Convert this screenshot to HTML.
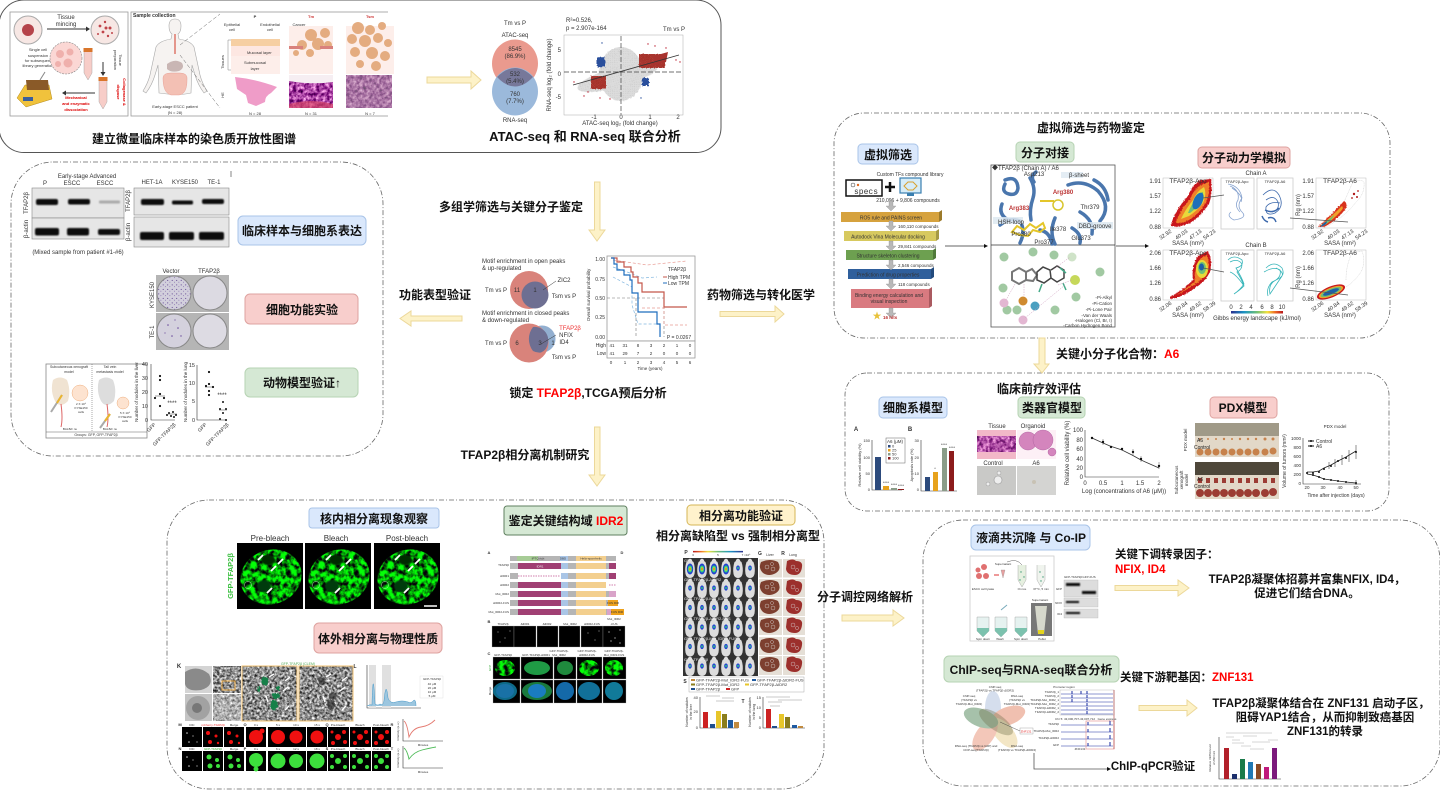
<!DOCTYPE html>
<html><head><meta charset="utf-8"><title>TFAP2β diagram</title>
<style>
html,body{margin:0;padding:0;background:#fff;width:1440px;height:791px;overflow:hidden}
svg{display:block}
text{font-family:"Liberation Sans","Noto Sans CJK SC",sans-serif;text-anchor:middle;fill:#333;font-size:5px}
.h{font-weight:700;font-size:12px;fill:#111}
.h2{font-weight:700;font-size:13px;fill:#111}
.h3{font-weight:700;font-size:11.5px;fill:#111}
.r{fill:#f00}
.l{text-anchor:start}
.e{text-anchor:end}
.s6{font-size:6px}.s7{font-size:7px}.s8{font-size:8px}.s4{font-size:4px}.s3{font-size:3px}
.ar{fill:#fdf2c8;stroke:#ecd89a;stroke-width:1}
.fr{fill:none;stroke:#666;stroke-width:.8;stroke-dasharray:5 2 1 2}
.ax{fill:none;stroke:#333;stroke-width:.6}
.im{fill:#000;stroke:#999;stroke-width:.5}
</style></head><body>
<svg width="1440" height="791" viewBox="0 0 1440 791" xmlns="http://www.w3.org/2000/svg">
<defs>
<filter id="gfp" x="0" y="0" width="100%" height="100%" color-interpolation-filters="sRGB"><feTurbulence type="fractalNoise" baseFrequency=".2" numOctaves="3" seed="4"/><feColorMatrix values="0 0 0 0 0.02  3 0 0 0 -.9  0 0 0 0 0.03  0 0 0 0 1"/><feComposite in2="SourceAlpha" operator="in"/></filter>
<filter id="em" x="0" y="0" width="100%" height="100%" color-interpolation-filters="sRGB"><feTurbulence type="fractalNoise" baseFrequency=".4" numOctaves="2" seed="7"/><feColorMatrix values="1.5 0 0 0 -.2  1.5 0 0 0 -.2  1.5 0 0 0 -.2  0 0 0 0 1"/><feComposite in2="SourceAlpha" operator="in"/></filter>
<filter id="he" x="0" y="0" width="100%" height="100%" color-interpolation-filters="sRGB"><feTurbulence type="fractalNoise" baseFrequency=".3" numOctaves="3" seed="9"/><feColorMatrix values="1.3 0 0 0 0  1.5 0 0 0 -.5  1.1 0 0 0 .08  0 0 0 0 1"/><feComposite in2="SourceAlpha" operator="in"/></filter>
<filter id="rough" x="-10%" y="-10%" width="120%" height="120%"><feTurbulence type="fractalNoise" baseFrequency=".5" numOctaves="2" seed="2"/><feDisplacementMap in="SourceGraphic" scale="4"/></filter>
<filter id="rough2" x="-10%" y="-10%" width="120%" height="120%"><feTurbulence type="fractalNoise" baseFrequency=".6" numOctaves="2" seed="5"/><feDisplacementMap in="SourceGraphic" scale="2"/></filter>
<filter id="b1"><feGaussianBlur stdDeviation=".7"/></filter>
<filter id="b2"><feGaussianBlur stdDeviation="1.5"/></filter>
<pattern id="pg" width="2.2" height="2.2" patternUnits="userSpaceOnUse"><rect width="2.2" height="2.2" fill="#dcdcdc"/><circle cx="1" cy="1" r=".5" fill="#c8c8c8"/></pattern>
<pattern id="pr" width="2" height="2" patternUnits="userSpaceOnUse"><rect width="2" height="2" fill="#a5302c"/><circle cx="1" cy="1" r=".5" fill="#b8403a"/></pattern>
<pattern id="col" width="4.5" height="4.5" patternUnits="userSpaceOnUse"><rect width="4.5" height="4.5" fill="#d2cfdc"/><circle cx="1.2" cy="1.4" r=".55" fill="#5a3c8c"/><circle cx="3.4" cy="3.2" r=".4" fill="#6b4c9c"/></pattern>
<linearGradient id="heat" x1="0" x2="1"><stop offset="0" stop-color="#2b2f8f"/><stop offset=".25" stop-color="#1b93c4"/><stop offset=".5" stop-color="#6fbf74"/><stop offset=".7" stop-color="#f4e23e"/><stop offset=".85" stop-color="#ee6a24"/><stop offset="1" stop-color="#b5161c"/></linearGradient>

<g id="nuc">
<rect width="66" height="66" fill="#000"/>
<ellipse cx="34" cy="34" rx="31" ry="27" fill="#0c8" filter="url(#gfp)" transform="rotate(-20 34 34)"/>
<ellipse cx="31" cy="17" rx="7" ry="5" fill="#042a06" filter="url(#b1)"/>
<ellipse cx="27" cy="43" rx="7" ry="6" fill="#053a08" filter="url(#b1)"/>
<circle cx="11" cy="42" r="3.5" fill="none" stroke="#ddd" stroke-width=".4"/>
<g stroke="#fff" stroke-width="1.8"><path d="M21 17l5-5M41 21l5-5M34 28l5-5M30 50l5-5"/></g>
</g>

<g id="mouse">
<path d="M-3.5 -7q3.5-3 7 0q2 6 1 12q-1 4-4.500 4t-4.500-4q-1-6 1-12z" fill="#ddd"/><circle cy="-8" r="2.2" fill="#ddd"/>
<ellipse cx="0" cy="-1" rx="1.8" ry="2.6" fill="#2040d0"/><ellipse cy="-1" rx=".8" ry="1.200" fill="#30d080"/>
</g>
<g id="mouse2">
<path d="M-3.5 -7q3.5-3 7 0q2 6 1 12q-1 4-4.500 4t-4.500-4q-1-6 1-12z" fill="#ddd"/><circle cy="-8" r="2.2" fill="#ddd"/>
<ellipse cx="0" cy="0" rx="3.2" ry="5.500" fill="#2040d0"/><ellipse cy="0" rx="2.200" ry="3.500" fill="#30d080"/><ellipse cy="0" rx="1.200" ry="1.800" fill="#e8d030"/><ellipse cy="0" rx=".6" ry=".9" fill="#e03020"/>
</g>

<g id="liver"><path d="M-9-6q9-4 17 0q4 7-2 11q-7 4-13 0q-5-5-2-11z" fill="#7d3f2f"/><circle cx="-3" cy="-1" r="2" fill="none" stroke="#ddd" stroke-width=".4"/><circle cx="3" cy="1" r="2" fill="none" stroke="#ddd" stroke-width=".4"/><circle cx="2" cy="-4" r="1.5" fill="none" stroke="#ddd" stroke-width=".4"/></g>
<g id="lung"><path d="M-7-7q6-3 9 0q7 0 6 6q-1 8-7 8q-8 0-9-6z" fill="#9c2f2c"/><circle cx="-1" cy="-1" r="2" fill="none" stroke="#ddd" stroke-width=".4"/><circle cx="3" cy="2" r="1.6" fill="none" stroke="#ddd" stroke-width=".4"/></g>

<g id="dom">
<rect x="510" width="106" height="6" fill="#b5b5b5"/>
<rect x="518" width="43" height="6" fill="#a03f73"/>
<rect x="561" width="7" height="6" fill="#a9c5e6"/>
<rect x="576" width="30" height="6" fill="#f3cf8e"/>
</g>
<g id="hm1">
<rect width="50" height="50" fill="#fff" stroke="#bbb" stroke-width=".5"/>
<path d="M8 48Q10 35 25 18Q30 5 38 2L48 1Q50 15 46 26Q38 38 27 45Q15 50 8 48z" fill="#c8191c" filter="url(#rough2)"/>
<path d="M13 45Q15 35 27 21Q32 9 40 6L46 4Q47 16 43 25Q36 36 26 42Q18 46 13 45z" fill="#f0802a" filter="url(#rough2)"/>
<path d="M18 41Q22 32 30 22Q34 13 41 9Q44 16 40 25Q34 33 26 38z" fill="#e8d83a"/>
<path d="M25 35Q28 27 33 21Q37 14 40 14Q41 20 37 26Q31 32 27 35z" fill="#6fbf74"/>
<ellipse cx="35" cy="23" rx="4.500" ry="9" fill="#1d70b8" transform="rotate(25 35 23)"/>
</g>
<g id="hm2">
<rect width="50" height="50" fill="#fff" stroke="#bbb" stroke-width=".5"/>
<path d="M2 49Q18 38 28 24L36 6Q44 0 48 4Q49 16 40 24Q30 38 10 49z" fill="none" stroke="#ccc" stroke-width=".5" stroke-dasharray="1 .6"/>
<path d="M2 49Q16 36 28 23Q32 25 30 30Q22 42 8 49z" fill="#d8301c" filter="url(#rough2)"/>
<path d="M4 48Q16 38 26 28Q28 30 25 33Q16 43 7 48z" fill="#f0a02a"/>
<path d="M5 48Q12 42 18 37Q17 41 9 47z" fill="#6fbf74"/>
<path d="M4 49Q7 45 11 43Q11 46 7 48z" fill="#1d60a8"/>
<circle cx="38" cy="16" r="1.200" fill="#b01818"/><circle cx="41" cy="19" r="1" fill="#b01818"/><circle cx="36" cy="20" r=".9" fill="#b01818"/><circle cx="42" cy="13" r=".9" fill="#b01818"/>
</g>
<g id="hm3">
<rect width="50" height="50" fill="#fff" stroke="#bbb" stroke-width=".5"/>
<path d="M7 47Q20 40 30 30Q28 15 36 5L45 1Q50 12 47 22Q42 32 32 38Q18 48 7 49z" fill="#c8191c" filter="url(#rough2)"/>
<path d="M12 46Q22 40 32 31Q31 17 38 8L44 5Q47 13 45 21Q40 30 31 35Q20 42 12 46z" fill="#f0802a" filter="url(#rough2)"/>
<ellipse cx="39" cy="19" rx="6" ry="9" fill="#e8d83a"/><ellipse cx="39" cy="18" rx="4" ry="6" fill="#6fbf74"/><ellipse cx="38.500" cy="17" rx="2.500" ry="3.500" fill="#1d60a8"/>
</g>
<g id="hm4">
<rect width="50" height="50" fill="#fff" stroke="#bbb" stroke-width=".5"/>
<path d="M30 30Q30 15 36 3L46 1Q50 12 45 22Q38 32 30 37" fill="none" stroke="#ccc" stroke-width=".5" stroke-dasharray="1 .6"/>
<g transform="rotate(-22 15 42)"><ellipse cx="15" cy="42" rx="15" ry="5.500" fill="#c8191c"/><ellipse cx="15" cy="42" rx="13" ry="4.200" fill="#f0a02a"/><ellipse cx="15" cy="42" rx="11" ry="3.200" fill="#6fbf74"/><ellipse cx="15" cy="42" rx="8.500" ry="2.200" fill="#1d60a8"/></g>
</g>
<g id="tube"><path d="M-4 0h8v22l-4 7-4-7z" fill="#f7cdc8" stroke="#999" stroke-width=".4"/><rect x="-4.5" y="-3" width="9" height="4" fill="#d9762b"/></g>
<g id="st"><path d="M-2-5h4l0 5h3l-5 5-5-5h3z" fill="#b8b8b8" stroke="#888" stroke-width=".3"/></g>
</defs>

<rect width="1440" height="791" fill="#fff"/>

<!-- ===== frames ===== -->
<rect x="-1" y="0" width="722" height="152.5" rx="25" fill="none" stroke="#555" stroke-width="1"/>
<rect x="11" y="162" width="372" height="294" rx="42" class="fr"/>
<rect x="834" y="113" width="556" height="225" rx="30" class="fr"/>
<rect x="845" y="373" width="544" height="138" rx="22" class="fr"/>
<rect x="167" y="500" width="657" height="289" rx="42" class="fr"/>
<rect x="923" y="520" width="517" height="266" rx="40" class="fr"/>

<!-- ===== yellow arrows ===== -->
<polygon class="ar" points="427,77 471,77 471,71 481,80 471,89 471,83 427,83"/>
<polygon class="ar" points="594.5,182 600,182 600,230 605,230 597,241 589,230 594.5,230"/>
<polygon class="ar" points="462,316 411,316 411,311 400,318.500 411,326 411,321 462,321"/>
<polygon class="ar" points="720,311.500 775,311.500 775,306 784,314 775,322 775,316.500 720,316.500"/>
<polygon class="ar" points="594.5,427 600,427 600,475 605,475 597,486 589,475 594.500,475"/>
<polygon class="ar" points="1039,338 1045,338 1045,364 1049,364 1042,373 1034,364 1039,364"/>
<polygon class="ar" points="842,615 893,615 893,610 904,618 893,626 893,621 842,621"/>
<polygon class="ar" points="1115,585.500 1178,585.500 1178,580 1189,588 1178,596 1178,590.500 1115,590.500"/>
<polygon class="ar" points="1139,705.500 1187,705.500 1187,700 1197,708 1187,716 1187,710.500 1139,710.500"/>

<!-- ===== Top panel: left schematic ===== -->
<rect x="10" y="12" width="118" height="104" fill="#fff" stroke="#999" stroke-width=".8"/>
<circle cx="28" cy="30" r="14" fill="#f7e7e4" stroke="#aaa"/><circle cx="28" cy="30" r="6" fill="#b5434a"/>
<circle cx="105" cy="30" r="14" fill="#f7e7e4" stroke="#aaa"/>
<g fill="#c0444a"><circle cx="100" cy="26" r="1.4"/><circle cx="105" cy="22" r="1.2"/><circle cx="110" cy="28" r="1.5"/><circle cx="103" cy="32" r="1.4"/><circle cx="98" cy="34" r="1"/><circle cx="108" cy="36" r="1.2"/><circle cx="112" cy="33" r="1"/><circle cx="106" cy="28" r="1.5"/></g>
<path d="M47 29H86" stroke="#333" stroke-width="1"/><path d="M86 26.500l4 2.500-4 2.500z" fill="#333"/>
<text x="66" y="19" class="s6">Tissue</text><text x="66" y="26" class="s6">mincing</text>
<text x="38" y="51" class="s4">Single cell</text><text x="38" y="57" class="s4">suspension</text><text x="38" y="62" class="s4">for subsequent</text><text x="38" y="67" class="s4">library generation</text>
<circle cx="66" cy="58" r="16" fill="#fbd7d4" stroke="#888" stroke-dasharray="2 1" stroke-width=".6"/>
<circle cx="60" cy="54" r="4" fill="#efb0ac"/><circle cx="70" cy="52" r="3.5" fill="#efb0ac"/><circle cx="68" cy="63" r="4.500" fill="#efb0ac"/><circle cx="58" cy="64" r="3" fill="#efb0ac"/>
<use href="#tube" x="88" y="51"/>
<path d="M103 62V72" stroke="#333"/><path d="M100.500 72l2.500 4 2.500-4z" fill="#333"/>
<text class="s4" transform="translate(119,60) rotate(90)">Tissue</text><text class="s4" transform="translate(114,60) rotate(90)">preparation</text>
<use href="#tube" x="103" y="80"/>
<path d="M95 93H66" stroke="#333"/><path d="M66 90.500l-4 2.500 4 2.500z" fill="#333"/>
<text class="s4" style="font-weight:700;fill:#d00" transform="translate(123,92) rotate(90)">Collagenase &amp;</text><text class="s4" style="font-weight:700;fill:#d00" transform="translate(117,92) rotate(90)">dispase</text>
<text x="76" y="99" class="s4" style="font-weight:700;fill:#d00">Mechanical</text><text x="76" y="105" class="s4" style="font-weight:700;fill:#d00">and enzymatic</text><text x="76" y="111" class="s4" style="font-weight:700;fill:#d00">dissociation</text>
<path d="M25 85h24l3 14-26 8-9-9z" fill="#f0c23c" stroke="#b38a1c" stroke-width=".5"/><path d="M26 80h22l1 10H27z" fill="#8a5a28"/><rect x="23" y="97" width="10" height="4" fill="#3a5f9c"/>
<path d="M40 80l5-8" stroke="#888"/>

<rect x="131" y="12" width="263" height="104" fill="#fff" stroke="#999" stroke-width=".8"/>
<rect x="388" y="10" width="10" height="108" fill="#fff"/>
<text x="133" y="17" class="s4 l" style="font-weight:700;font-size:5px">Sample collection</text>
<path d="M175 19q6 0 6 7q0 6-3 8l1 5q12 2 15 8l6 28q2 8 7 16l-3 2q-6-8-9-18l-3-10-1 28q-12 3-32 0l-1-28-3 10q-3 10-9 18l-3-2q5-8 7-16l6-28q3-6 15-8l1-5q-3-2-3-8q0-7 6-7z" fill="#f6f3f1" stroke="#aaa" stroke-width=".6"/>
<path d="M175 34V54" stroke="#d9584a" stroke-width="1.2"/>
<path d="M167 64q8-6 15-1q3 5-3 8q-8 2-12-2z" fill="#c9b6b4"/>
<path d="M163 78q0-5 8-5h9q8 0 7 7q0 14-8 15h-8q-8-2-8-17z" fill="#f3c0b4" stroke="#e4958a" stroke-width=".4"/>
<path d="M180 45L220 14M180 55L220 108" stroke="#666" stroke-dasharray="4 2" stroke-width=".5" fill="none"/>
<text x="175" y="108" class="s4">Early-stage ESCC patient</text><text x="175" y="114" class="s4">(N = 28)</text>
<text x="255" y="18" class="s4" style="font-weight:700">P</text><text x="311" y="18" class="s4" style="font-weight:700;fill:#c33">Tm</text><text x="370" y="18" class="s4" style="font-weight:700;fill:#c33">Tsm</text>
<text x="232" y="26" class="s4">Epithelial</text><text x="232" y="31" class="s4">cell</text>
<text x="270" y="26" class="s4">Endothelial</text><text x="270" y="31" class="s4">cell</text>
<text x="299" y="26" class="s4">Cancer</text><text x="299" y="31" class="s4">cell</text>
<rect x="231" y="39" width="49" height="7" fill="#f6cfa3"/><rect x="231" y="46" width="49" height="10" fill="#fde7e2"/><rect x="231" y="56" width="49" height="18" fill="#fdeeea"/>
<text x="247" y="54" class="s4 l">Mucosal layer</text><text x="255" y="64" class="s4">Submucosal</text><text x="255" y="70" class="s4">layer</text>
<path d="M228 40v30M228 40h3M228 70h3" stroke="#666" fill="none" stroke-width=".4"/>
<text class="s4" transform="translate(224,62) rotate(-90)">Tissues</text><text class="s4" transform="translate(224,95) rotate(-90)">HE</text>
<rect x="289" y="26" width="44" height="48" fill="#fdeeea"/>
<g fill="#e4ac80"><circle cx="311" cy="35" r="6"/><circle cx="325" cy="33" r="5"/><circle cx="302" cy="45" r="5"/><circle cx="318" cy="44" r="6"/><circle cx="328" cy="45" r="4"/><circle cx="310" cy="53" r="4"/><circle cx="296" cy="53" r="3"/></g>
<rect x="289" y="46" width="14" height="3" fill="#d9817c"/><rect x="320" y="46" width="13" height="3" fill="#d9817c"/>
<rect x="346" y="26" width="48" height="48" fill="#fdeeea"/>
<g fill="#e4ac80"><circle cx="358" cy="28" r="6"/><circle cx="370" cy="30" r="5"/><circle cx="382" cy="26" r="4"/><circle cx="352" cy="39" r="5"/><circle cx="365" cy="41" r="6"/><circle cx="378" cy="38" r="5"/><circle cx="388" cy="43" r="4"/><circle cx="355" cy="52" r="5"/><circle cx="372" cy="53" r="6"/><circle cx="385" cy="56" r="5"/><circle cx="360" cy="64" r="4"/><circle cx="376" cy="66" r="5"/></g>
<path d="M235 77q20 2 42 10l-6 6q-6 3-6 9l-9 4-8-3-2-8-9-6z" fill="#ef9cc8"/>
<rect x="289" y="75" width="44" height="33" fill="#a44" filter="url(#he)"/>
<path d="M289 75h44v7q-22 3-44-1z" fill="#f6eef2"/><path d="M289 108v-4q22-6 44 0v4z" fill="#d84868" opacity=".7"/>
<rect x="346" y="75" width="46" height="33" fill="#a44" filter="url(#he)" opacity=".7"/><rect x="346" y="75" width="46" height="33" fill="#7a7070" opacity=".3"/>
<text x="255" y="115" class="s4">N = 28</text><text x="311" y="115" class="s4">N = 31</text><text x="370" y="115" class="s4">N = 7</text>

<text x="194" y="143" class="h">建立微量临床样本的染色质开放性图谱</text>
<text x="585" y="141" class="h2">ATAC-seq 和 RNA-seq 联合分析</text>

<!-- Venn top -->
<ellipse cx="515" cy="63.500" rx="23" ry="24" fill="#ea9a8e"/>
<ellipse cx="515" cy="91.500" rx="23" ry="24" fill="#9bb9db"/>
<path d="M497 77Q515 59 533 77Q515 96 497 77z" fill="#77789a"/>
<text x="515" y="25" class="s6">Tm vs P</text><text x="515" y="37" class="s6">ATAC-seq</text><text x="515" y="51" class="s6">8545</text><text x="515" y="58" class="s6">(86.9%)</text><text x="515" y="76" class="s6">532</text><text x="515" y="83" class="s6">(5.4%)</text><text x="515" y="96" class="s6">760</text><text x="515" y="103" class="s6">(7.7%)</text><text x="515" y="122" class="s6">RNA-seq</text>

<!-- Scatter -->
<rect x="564" y="35" width="119" height="80" fill="#fff" stroke="#aaa" stroke-width=".5"/>
<ellipse cx="621" cy="74" rx="22" ry="27" fill="url(#pg)" filter="url(#rough2)"/>
<ellipse cx="618" cy="77" rx="42" ry="10" fill="url(#pg)" transform="rotate(-16 618 77)" filter="url(#rough2)"/>
<rect x="639" y="54" width="26" height="14" fill="url(#pr)" filter="url(#rough2)"/>
<path d="M654 56l14-4-2 10-12 4z" fill="url(#pr)"/>
<rect x="591" y="76" width="15" height="13" fill="url(#pr)" filter="url(#rough2)"/>
<g fill="#2a4f9c"><rect x="597" y="57" width="8" height="10" filter="url(#rough)"/><circle cx="602" cy="43" r=".7"/><circle cx="641" cy="98" r=".7"/></g>
<rect x="642" y="78" width="7" height="8" fill="#2a4f9c" filter="url(#rough)"/>
<g fill="#b23"><circle cx="655" cy="46" r=".7"/><circle cx="666" cy="48" r=".7"/><circle cx="676" cy="60" r=".7"/><circle cx="680" cy="62" r=".7"/><circle cx="588" cy="92" r=".7"/><circle cx="600" cy="98" r=".7"/><circle cx="610" cy="99" r=".7"/><circle cx="574" cy="82" r=".7"/><circle cx="584" cy="96" r=".7"/><circle cx="648" cy="44" r=".7"/></g>
<path d="M621 36V114" stroke="#444" stroke-dasharray="5 2" stroke-width=".7"/>
<path d="M564 72H683" stroke="#444" stroke-dasharray="5 2" stroke-width=".8"/>
<path d="M573 85L679 55" stroke="#333" stroke-width=".8"/>
<text x="566" y="22" class="s6 l">R²=0.526,</text><text x="566" y="30" class="s6 l">p = 2.907e-164</text><text x="674" y="31" class="s6">Tm vs P</text>
<text class="s6" transform="translate(551,75) rotate(-90)">RNA-seq log₂ (fold change)</text>
<text x="561" y="52" class="s6 e">5</text><text x="561" y="76" class="s6 e">0</text><text x="561" y="99" class="s6 e">-5</text>
<text x="594" y="119" class="s6">-1</text><text x="621" y="119" class="s6">0</text><text x="650" y="119" class="s6">1</text><text x="678" y="119" class="s6">2</text>
<text x="620" y="125" class="s6">ATAC-seq log₂ (fold change)</text>

<!-- ===== Left panel ===== -->
<text x="87" y="178" class="s6">Early-stage Advanced</text>
<text x="45" y="185" class="s6">P</text><text x="72" y="185" class="s6">ESCC</text><text x="105" y="185" class="s6">ESCC</text>
<text x="152" y="184" class="s6">HET-1A</text><text x="185" y="184" class="s6">KYSE150</text><text x="214" y="184" class="s6">TE-1</text>
<path d="M231 171v6" stroke="#333" stroke-width=".6"/>
<g fill="#e6e6e6" stroke="#888" stroke-width=".6"><rect x="32" y="188" width="92" height="30"/><rect x="32" y="218" width="92" height="21"/><rect x="134" y="188" width="95" height="27"/><rect x="134" y="217" width="95" height="30"/></g>
<g fill="#111" filter="url(#b1)">
<rect x="36" y="199" width="22" height="6" rx="2"/><rect x="68" y="199" width="22" height="5.500" rx="2"/><rect x="99" y="200.500" width="21" height="3" rx="1" fill="#aaa"/>
<rect x="35" y="228" width="24" height="7.500" rx="2"/><rect x="67" y="228" width="22" height="7.500" rx="2"/><rect x="98" y="229" width="22" height="6" rx="2"/>
<rect x="141" y="199" width="23" height="6" rx="2"/><rect x="172" y="200.500" width="21" height="4" rx="1.500"/><rect x="202" y="199" width="22" height="5" rx="2"/>
<rect x="140" y="232" width="24" height="8" rx="2"/><rect x="169" y="232" width="25" height="8" rx="2"/><rect x="199" y="232" width="25" height="8" rx="2"/></g>
<text class="s6" transform="translate(28,203) rotate(-90)">TFAP2β</text><text class="s6" transform="translate(28,229) rotate(-90)">β-actin</text>
<text class="s6" transform="translate(130,201) rotate(-90)">TFAP2β</text><text class="s6" transform="translate(130,232) rotate(-90)">β-actin</text>
<text x="78" y="254" class="s6">(Mixed sample from patient #1-#6)</text>

<rect x="238" y="216" width="128" height="29" rx="5" fill="#dae8fc" stroke="#a9c4e8"/>
<text x="302" y="235" class="h">临床样本与细胞系表达</text>
<rect x="245" y="294" width="113" height="30" rx="5" fill="#f8cecc" stroke="#dea3a0"/>
<text x="302" y="314" class="h">细胞功能实验</text>
<rect x="245" y="368" width="113" height="29" rx="5" fill="#d5e8d4" stroke="#b6d3b3"/>
<text x="302" y="387" class="h">动物模型验证↑</text>

<text x="171" y="273" class="s6">Vector</text><text x="209" y="273" class="s6">TFAP2β</text>
<text class="s6" transform="translate(154,295) rotate(-90)">KYSE150</text><text class="s6" transform="translate(154,332) rotate(-90)">TE-1</text>
<rect x="156" y="275" width="73" height="37" fill="#b5b5b5"/><rect x="156" y="313" width="73" height="37" fill="#b5b5b5"/>
<circle cx="174" cy="293" r="17" fill="url(#col)" stroke="#888"/><circle cx="210" cy="293" r="17" fill="#dcdae2" stroke="#888"/>
<circle cx="174" cy="331" r="17" fill="#d4d1dd" stroke="#888"/><circle cx="210" cy="331" r="17" fill="#dddbe3" stroke="#888"/>
<g fill="#6b4c9c"><circle cx="168" cy="325" r=".8"/><circle cx="178" cy="328" r=".8"/><circle cx="172" cy="336" r=".8"/><circle cx="165" cy="333" r=".6"/><circle cx="181" cy="336" r=".7"/><circle cx="175" cy="320" r=".6"/></g>

<rect x="46" y="364" width="101" height="74" fill="#fff" stroke="#888" stroke-width=".8"/>
<path d="M92 364v68" stroke="#555" stroke-dasharray="1 1" stroke-width=".5"/><path d="M46 432h101" stroke="#666" stroke-width=".6"/>
<text x="69" y="368" class="s3" style="font-size:3.500px">Subcutaneous xenograft</text><text x="69" y="373" class="s3" style="font-size:3.500px">model</text>
<text x="110" y="368" class="s3" style="font-size:3.500px">Tail vein</text><text x="110" y="373" class="s3" style="font-size:3.500px">metastasis model</text>
<path d="M53 380q7-5 14 0q4 10 1 21q-8 8-13 0q-5-10-2-21z" fill="#f0e3d2"/><path d="M61 404q2 15 0 23" stroke="#d66" fill="none"/>
<path d="M99 380q7-5 14 0q4 10 1 21q-8 8-13 0q-5-10-2-21z" fill="#ddd"/><path d="M107 404q2 15 0 23" stroke="#d66" fill="none"/>
<circle cx="80" cy="393" r="8" fill="#fde3d0" stroke="#f0b080" stroke-width=".5"/><circle cx="123" cy="403" r="6" fill="#fde3d0" stroke="#f0b080" stroke-width=".5"/>
<path d="M51 412L62 395" stroke="#aaa" stroke-width="2"/><path d="M57 403L62 395" stroke="#ebb52e" stroke-width="2"/>
<path d="M100 428L110 414" stroke="#aaa" stroke-width="2"/><path d="M105 421L110 414" stroke="#ebb52e" stroke-width="2"/>
<text x="81" y="405" class="s3">2 X 10⁶</text><text x="81" y="409" class="s3">KYSE150</text><text x="81" y="413" class="s3">cells</text>
<text x="125" y="414" class="s3">5 X 10⁶</text><text x="125" y="418" class="s3">KYSE150</text><text x="125" y="422" class="s3">cells</text>
<text x="70" y="430" class="s3">BALB/c nu</text><text x="110" y="430" class="s3">BALB/c nu</text>
<text x="96" y="436" class="s3" style="font-size:3.500px">Groups: GFP, GFP-TFAP2β</text>

<path d="M151 364v56h24" class="ax"/><path d="M197 365v55h30" class="ax"/>
<text x="148" y="366" class="e" style="font-size:5.500px">40</text><text x="148" y="380" class="e" style="font-size:5.500px">30</text><text x="148" y="394" class="e" style="font-size:5.500px">20</text><text x="148" y="408" class="e" style="font-size:5.500px">10</text><text x="148" y="422" class="e" style="font-size:5.500px">0</text>
<text x="195" y="367" class="e" style="font-size:5.500px">15</text><text x="195" y="385" class="e" style="font-size:5.500px">10</text><text x="195" y="403" class="e" style="font-size:5.500px">5</text><text x="195" y="422" class="e" style="font-size:5.500px">0</text>
<text class="s4" style="font-size:4.500px" transform="translate(138,392) rotate(-90)">Number of nodules in the liver</text>
<text class="s4" style="font-size:4.500px" transform="translate(187,392) rotate(-90)">Number of nodules in the lung</text>
<g fill="#111"><circle cx="160" cy="376" r="1.100"/><circle cx="160" cy="380" r="1.100"/><circle cx="160" cy="394" r="1.100"/><circle cx="155" cy="398" r="1.100"/><circle cx="164" cy="398" r="1.100"/><circle cx="160" cy="406" r="1.100"/>
<circle cx="169" cy="413" r="1"/><circle cx="173" cy="412" r="1"/><circle cx="176" cy="415" r="1"/><circle cx="171" cy="416" r="1"/><circle cx="174" cy="417" r="1"/><circle cx="167" cy="415" r="1"/>
<circle cx="209" cy="372" r="1.100"/><circle cx="209" cy="384" r="1.100"/><circle cx="206" cy="386" r="1.100"/><circle cx="213" cy="387" r="1.100"/><circle cx="209" cy="391" r="1.100"/><circle cx="209" cy="395" r="1.100"/>
<circle cx="223" cy="402" r="1"/><circle cx="220" cy="409" r="1"/><circle cx="226" cy="409" r="1"/><circle cx="223" cy="413" r="1"/><circle cx="220" cy="419" r="1"/><circle cx="226" cy="420" r="1"/></g>
<path d="M155 396h10M205 387h8M168 414h9M219 410h8" stroke="#111" stroke-width=".4"/>
<text x="172" y="405" class="s6">****</text><text x="222" y="397" class="s6">****</text>
<text class="e" style="font-size:5px" transform="translate(156,425) rotate(-45)">GFP</text><text class="e" style="font-size:5px" transform="translate(176,425) rotate(-45)">GFP-TFAP2β</text><text class="e" style="font-size:5px" transform="translate(207,425) rotate(-45)">GFP</text><text class="e" style="font-size:5px" transform="translate(229,425) rotate(-45)">GFP-TFAP2β</text>

<!-- ===== Center ===== -->
<text x="511" y="211" class="h">多组学筛选与关键分子鉴定</text>
<text x="435" y="299" class="h">功能表型验证</text>
<text x="761" y="299" class="h">药物筛选与转化医学</text>
<text x="588" y="397" class="h"><tspan>锁定 </tspan><tspan style="fill:#f00">TFAP2β</tspan><tspan>,TCGA预后分析</tspan></text>
<text x="525" y="459" class="h">TFAP2β相分离机制研究</text>

<text x="482" y="263" class="s6 l">Motif enrichment in open peaks</text><text x="482" y="270" class="s6 l">&amp; up-regulated</text>
<circle cx="529" cy="290" r="19" fill="#d9837b"/><circle cx="535" cy="295" r="13.500" fill="#6e6f92"/>
<text x="496" y="292" class="s6">Tm vs P</text><text x="517" y="292" class="s6">11</text><text x="535" y="292" class="s6">1</text><text x="564" y="282" class="s6">ZIC2</text><text x="564" y="298" class="s6">Tsm vs P</text>
<path d="M543 290L556 281" stroke="#333" stroke-width=".5"/>
<text x="482" y="315" class="s6 l">Motif enrichment in closed peaks</text><text x="482" y="322" class="s6 l">&amp; down-regulated</text>
<circle cx="542" cy="339" r="13.500" fill="#92afd0"/>
<circle cx="529" cy="343" r="19.500" fill="#d9837b"/>
<path d="M548 343A13.500 13.500 0 0 0 533 327A19.500 19.500 0 0 0 533 351A13.500 13.500 0 0 0 541 352.500Q547 350 548 343z" fill="#6e6f92"/>
<text x="496" y="345" class="s6">Tm vs P</text><text x="517" y="345" class="s6">6</text><text x="540" y="345" class="s6">3</text><text x="553" y="345" class="s6">1</text>
<text x="570" y="330" class="s6" style="fill:#e33">TFAP2β</text><text x="566" y="337" class="s6">NFIX</text><text x="564" y="344" class="s6">ID4</text><text x="564" y="359" class="s6">Tsm vs P</text>
<path d="M541 344L556 335" stroke="#333" stroke-width=".5"/>

<rect x="607" y="256" width="88" height="85" fill="#fff" stroke="#999" stroke-width=".8"/>
<rect x="607" y="341" width="88" height="17" fill="#fff" stroke="#999" stroke-width=".8"/>
<path d="M607 298H664V337M636 298V337" stroke="#777" stroke-dasharray="3 2" fill="none" stroke-width=".6"/>
<path d="M613 260L647 265L687 261" stroke="#e89a92" stroke-dasharray="3 2" fill="none" stroke-width=".7"/>
<path d="M642 308H664V325H687" stroke="#e89a92" stroke-dasharray="3 2" fill="none" stroke-width=".7"/>
<path d="M613 267L630 273L642 278L657 277" stroke="#84b8e0" stroke-dasharray="3 2" fill="none" stroke-width=".7"/>
<path d="M613 277L632 287V305L638 324H657" stroke="#84b8e0" stroke-dasharray="3 2" fill="none" stroke-width=".7"/>
<path d="M611 258h6v4h7v5h7v5h2v5h5v6h4v9h22v15h23" fill="none" stroke="#c4574b" stroke-width="1.200"/>
<path d="M611 258h3v6h3v6h7v5h6v5h2v13h6v5h0v14h19v12h3v13" fill="none" stroke="#1f6dbd" stroke-width="1.200"/>
<text x="677" y="271" style="font-size:5px">TFAP2β</text>
<path d="M663 277h4" stroke="#c4574b"/><text x="668" y="279" class="l" style="font-size:5px">High TPM</text>
<path d="M663 283h4" stroke="#1f6dbd"/><text x="668" y="285" class="l" style="font-size:5px">Low TPM</text>
<text x="679" y="339" style="font-size:5px">P = 0.0267</text>
<text x="605" y="261" class="e" style="font-size:5px">1.00</text><text x="605" y="281" class="e" style="font-size:5px">0.75</text><text x="605" y="300" class="e" style="font-size:5px">0.50</text><text x="605" y="319" class="e" style="font-size:5px">0.25</text><text x="605" y="339" class="e" style="font-size:5px">0.00</text>
<text x="606" y="347" class="e" style="font-size:5px">High</text><text x="606" y="355" class="e" style="font-size:5px">Low</text>
<text style="font-size:4.500px" transform="translate(590,295) rotate(-90)">Overall survival probability</text>
<g><text x="612" y="347" style="font-size:4.500px">41</text><text x="625" y="347" style="font-size:4.500px">31</text><text x="638" y="347" style="font-size:4.500px">8</text><text x="651" y="347" style="font-size:4.500px">3</text><text x="664" y="347" style="font-size:4.500px">2</text><text x="677" y="347" style="font-size:4.500px">1</text><text x="690" y="347" style="font-size:4.500px">0</text>
<text x="612" y="355" style="font-size:4.500px">41</text><text x="625" y="355" style="font-size:4.500px">29</text><text x="638" y="355" style="font-size:4.500px">7</text><text x="651" y="355" style="font-size:4.500px">2</text><text x="664" y="355" style="font-size:4.500px">0</text><text x="677" y="355" style="font-size:4.500px">0</text><text x="690" y="355" style="font-size:4.500px">0</text>
<text x="611" y="364" style="font-size:4.500px">0</text><text x="625" y="364" style="font-size:4.500px">1</text><text x="638" y="364" style="font-size:4.500px">2</text><text x="651" y="364" style="font-size:4.500px">3</text><text x="664" y="364" style="font-size:4.500px">4</text><text x="677" y="364" style="font-size:4.500px">5</text><text x="690" y="364" style="font-size:4.500px">6</text>
<text x="650" y="370" style="font-size:4.500px">Time (years)</text></g>

<!-- ===== Right top panel ===== -->
<text x="1091" y="132" class="h">虚拟筛选与药物鉴定</text>
<rect x="858" y="144" width="60" height="20" rx="4" fill="#dae8fc" stroke="#a9c4e8"/><text x="888" y="159" class="h">虚拟筛选</text>
<rect x="1016" y="142" width="58" height="20" rx="4" fill="#d5e8d4" stroke="#b6d3b3"/><text x="1045" y="157" class="h">分子对接</text>
<rect x="1198" y="147" width="92" height="21" rx="4" fill="#f8cecc" stroke="#dea3a0"/><text x="1244" y="162" class="h">分子动力学模拟</text>

<text x="910" y="176" style="font-size:5px">Custom TFs compound library</text>
<rect x="846" y="180" width="36" height="16" fill="#fff" stroke="#111" stroke-width="1.500"/>
<circle cx="853" cy="185" r="2" fill="none" stroke="#333" stroke-width=".5"/><circle cx="858" cy="185" r="1.200" fill="#e06a20"/>
<text x="866" y="194" style="font-family:'Liberation Mono',monospace;font-size:8px">specs</text>
<path d="M890 182v10M885 187h10" stroke="#111" stroke-width="2.500"/>
<rect x="900" y="178" width="21" height="15" fill="#d6ecf7" stroke="#3a7fb0" stroke-width="1.200"/><rect x="907" y="193" width="7" height="3" fill="#3a7fb0"/><path d="M904 186l4-4h5l4 4-4 4h-5z" fill="none" stroke="#d9a02c"/>
<text x="908" y="202" style="font-size:5px">210,096 + 9,806 compounds</text>
<rect x="841" y="212" width="98" height="10" fill="#d6a23e"/><path d="M939 212l3-2v10l-3 2z" fill="#9c7a2a"/><text x="891" y="219.500" style="font-size:5px">RO5 rule and PAINS screen</text>
<rect x="844" y="231" width="92" height="10" fill="#d7c95f"/><path d="M936 231l3-2v10l-3 2z" fill="#a59945"/><text x="888" y="238.500" style="font-size:5px">Autodock Vina Molecular docking</text>
<rect x="846" y="250" width="87" height="10" fill="#6da050"/><path d="M933 250l3-2v10l-3 2z" fill="#507a3a"/><text x="888" y="257.500" style="font-size:5px">Structure skeleton clustering</text>
<rect x="848" y="269" width="83" height="10" fill="#2f5f9c"/><path d="M931 269l3-2v10l-3 2z" fill="#234a7c"/><text x="888" y="276.500" style="font-size:5px">Prediction of drug properties</text>
<rect x="851" y="289" width="78" height="19" fill="#d97a80"/><path d="M929 289l3-2v19l-3 2z" fill="#aa5a60"/><text x="889" y="297" style="font-size:5px">Binding energy calculation and</text><text x="889" y="303" style="font-size:5px">visual inspection</text>
<use href="#st" x="891" y="206"/><use href="#st" x="891" y="226"/><use href="#st" x="891" y="246"/><use href="#st" x="891" y="265"/><use href="#st" x="891" y="284"/><use href="#st" x="891" y="313"/>
<text x="898" y="228" class="l" style="font-size:4.500px">160,110 compounds</text><text x="898" y="248" class="l" style="font-size:4.500px">29,841 compounds</text><text x="898" y="267" class="l" style="font-size:4.500px">2,546 compounds</text><text x="898" y="286" class="l" style="font-size:4.500px">118 compounds</text>
<text x="877" y="319" style="font-size:9px;fill:#e8c23a">★</text><text x="883" y="319" class="l" style="font-size:4.500px;font-weight:700;fill:#b33">16 hits</text>
<path d="M945 246H984" stroke="#333" stroke-width=".8"/><path d="M984 244l4 2-4 2z" fill="#111"/>
<path d="M1116 246H1145" stroke="#333" stroke-width=".8"/><path d="M1145 244l4 2-4 2z" fill="#111"/>

<rect x="991" y="165" width="124" height="162" fill="#fff" stroke="#555" stroke-width=".8"/>
<path d="M991 245H1115" stroke="#333" stroke-width=".8"/>
<g fill="none" stroke="#4a76ad" stroke-width="3.500" stroke-linecap="round"><path d="M1005 180q12-5 13 8q-1 8-9 6q-8-2-4-10"/><path d="M1030 178q6 10 3 20q-4 12-2 22"/><path d="M1068 185q16-6 30 6q14 16 2 30"/><path d="M1080 212q14 8 12 22"/><path d="M1000 225q10-8 20-4q6 10 0 22"/><path d="M1055 218q-6 14 0 26"/><path d="M1040 230q10 2 12 14"/><path d="M1094 180q12 6 14 20"/><path d="M1072 228q10 6 8 15"/><path d="M1002 204q-4 10 6 16"/><path d="M1036 172q-6 4-2 10"/></g>
<path d="M1012 232l5-6 7 4 6-6 6 4 7-5 2 5-5 4-7-2-5 6-8-1z" fill="none" stroke="#e4c62a" stroke-width="2"/>
<circle cx="1058" cy="205" r="5" fill="none" stroke="#d8c52e" stroke-width="1.500"/>
<path d="M1040 201l14 0" stroke="#e4c62a" stroke-width="2"/>
<rect x="1061" y="172" width="22" height="6" fill="#dde9f1" opacity=".8"/><rect x="993" y="217" width="30" height="7" fill="#dde9f1" opacity=".85"/><rect x="1077" y="222" width="36" height="7" fill="#dde9f1" opacity=".85"/>
<text x="992" y="170" class="s6 l">◆TFAP2β (Chain A) / A6</text>
<text x="1034" y="176" class="s6">Asp213</text><text x="1079" y="177" class="s6">β-sheet</text>
<text x="1063" y="194" class="s6" style="font-weight:700;fill:#b33">Arg380</text>
<text x="1019" y="210" class="s6" style="font-weight:700;fill:#b33">Arg383</text>
<text x="1090" y="209" class="s6">Thr379</text><text x="1011" y="224" class="s6">HSH-loop</text>
<text x="1021" y="236" class="s6">Pro380</text><text x="1058" y="231" class="s6">Ile378</text><text x="1095" y="228" class="s6">DBD-groove</text>
<text x="1044" y="244" class="s6">Pro377</text><text x="1081" y="240" class="s6">Glu373</text>

<g fill="#82b884" opacity=".75"><circle cx="1004" cy="257" r="4.500"/><circle cx="1033" cy="252" r="4.500"/><circle cx="1054" cy="255" r="4.500"/><circle cx="1100" cy="272" r="4.500"/><circle cx="1076" cy="297" r="4.500"/><circle cx="1007" cy="310" r="4.500"/><circle cx="1017" cy="310" r="4.500"/><circle cx="1055" cy="310" r="4.500"/><circle cx="1003" cy="288" r="4.500"/></g>
<circle cx="1072" cy="257" r="4.500" fill="#cfe3c8"/><circle cx="1075" cy="280" r="5" fill="#c6d85a"/>
<circle cx="1004" cy="303" r="4.500" fill="#e3b7d2"/><circle cx="1023" cy="301" r="4.500" fill="#cf8b30"/><circle cx="1035" cy="306" r="4.500" fill="#4ba0c0"/><circle cx="1023" cy="320" r="4.500" fill="#e3b7d2"/>
<path d="M1012 272l7-4 7 4v8l-7 4-7-4z M1026 272l6-3 5 6-4 6-7-1" fill="none" stroke="#777" stroke-width="2"/>
<path d="M1037 272l6-5 7 3 1 8-7 5-7-3z M1051 270l6-4 7 4v8l-7 4-6-4" fill="none" stroke="#444" stroke-width="1.500"/>
<path d="M1060 268l6 5M1042 284l-3 8M1063 283l3 7" stroke="#4a8" stroke-width="1.500"/>
<path d="M1024 284v12M1058 285L1072 280M1054 269l16-12M1015 284L1006 300M1065 285L1025 318" stroke="#c9b" stroke-dasharray="1.500 1" stroke-width=".5"/>
<text x="1112" y="299" class="e" style="font-size:4.500px">◦Pi-Alkyl</text><text x="1112" y="305" class="e" style="font-size:4.500px">◦Pi-Cation</text><text x="1112" y="311" class="e" style="font-size:4.500px">◦Pi-Lone Pair</text><text x="1112" y="317" class="e" style="font-size:4.500px">◦Van der Waals</text><text x="1112" y="322" class="e" style="font-size:4.500px">◦Halogen (Cl, Br, I)</text><text x="1112" y="327" class="e" style="font-size:4.500px">◦Carbon Hydrogen Bond</text>

<text x="1256" y="175" class="s6">Chain A</text><text x="1256" y="247" class="s6">Chain B</text>
<use href="#hm1" x="1163" y="178"/><use href="#hm2" x="1316" y="178"/><use href="#hm3" x="1163" y="250"/><use href="#hm4" x="1316" y="250"/>
<g fill="#fff" stroke="#ccc" stroke-width=".8"><rect x="1221" y="178" width="33" height="51"/><rect x="1257" y="178" width="36" height="51"/><rect x="1221" y="250" width="33" height="51"/><rect x="1257" y="250" width="36" height="51"/></g>
<g fill="none" stroke-width=".8"><path d="M1228 184q12 2 14 14q-6 8 0 14t-8 8q-8-4-3-8M1230 186q10 4 8 14q-4 6 2 12M1232 188q12 8 9 14" stroke="#8aa5d0"/><path d="M1263 195q10-10 16 0q6 12-4 18q-10 4-9-6q4-6 14-4M1266 200q8-6 12 2q2 8-6 10" stroke="#3d69ac"/><path d="M1265 210q8 4 14-2M1268 218q6-2 8 4M1262 216q2 5 6 6" stroke="#3d69ac" stroke-width="1.500"/>
<path d="M1228 260q6-6 14 0q2 6-6 8q6 10 8 16q-4 6-10 10q6-4 10-8q-8-12-14-14M1230 262q8-4 12 2q0 6-5 8q5 8 7 14" stroke="#39b6ba"/><path d="M1266 268q8-8 16 0q4 8-6 12q-8 4-6 14q8-12 12-18q2-4-6-8M1264 272q10-6 16-2q2 8-8 12q-6 6-4 14" stroke="#39b6ba"/></g>
<text x="1188" y="183" style="font-size:6.500px">TFAP2β-Apo</text><text x="1340" y="183" style="font-size:6.500px">TFAP2β-A6</text><text x="1188" y="255" style="font-size:6.500px">TFAP2β-Apo</text><text x="1340" y="255" style="font-size:6.500px">TFAP2β-A6</text>
<text x="1237" y="183" style="font-size:4px">TFAP2β-Apo</text><text x="1275" y="183" style="font-size:4px">TFAP2β-A6</text><text x="1237" y="255" style="font-size:4px">TFAP2β-Apo</text><text x="1275" y="255" style="font-size:4px">TFAP2β-A6</text>
<path d="M1203 198L1224 195M1348 222L1290 218M1203 268L1224 272M1348 295L1290 288" stroke="#555" stroke-width=".7"/>
<text x="1161" y="183" class="e s6">1.91</text><text x="1161" y="198" class="e s6">1.57</text><text x="1161" y="213" class="e s6">1.22</text><text x="1161" y="229" class="e s6">0.88</text>
<text x="1314" y="183" class="e s6">1.91</text><text x="1314" y="198" class="e s6">1.57</text><text x="1314" y="213" class="e s6">1.22</text><text x="1314" y="229" class="e s6">0.88</text>
<text x="1161" y="255" class="e s6">2.06</text><text x="1161" y="270" class="e s6">1.66</text><text x="1161" y="285" class="e s6">1.26</text><text x="1161" y="301" class="e s6">0.86</text>
<text x="1314" y="255" class="e s6">2.06</text><text x="1314" y="270" class="e s6">1.66</text><text x="1314" y="285" class="e s6">1.26</text><text x="1314" y="301" class="e s6">0.86</text>
<text class="s6" transform="translate(1300,205) rotate(-90)">Rg (nm)</text><text class="s6" transform="translate(1300,277) rotate(-90)">Rg (nm)</text>
<text class="e" style="font-size:5.500px" transform="translate(1172,232) rotate(-35)">32.92</text><text class="e" style="font-size:5.500px" transform="translate(1188,232) rotate(-35)">40.03</text><text class="e" style="font-size:5.500px" transform="translate(1202,232) rotate(-35)">47.13</text><text class="e" style="font-size:5.500px" transform="translate(1216,232) rotate(-35)">54.23</text>
<text class="e" style="font-size:5.500px" transform="translate(1324,232) rotate(-35)">32.92</text><text class="e" style="font-size:5.500px" transform="translate(1340,232) rotate(-35)">40.03</text><text class="e" style="font-size:5.500px" transform="translate(1354,232) rotate(-35)">47.13</text><text class="e" style="font-size:5.500px" transform="translate(1368,232) rotate(-35)">54.23</text>
<text class="e" style="font-size:5.500px" transform="translate(1172,304) rotate(-35)">32.06</text><text class="e" style="font-size:5.500px" transform="translate(1188,304) rotate(-35)">40.84</text><text class="e" style="font-size:5.500px" transform="translate(1202,304) rotate(-35)">49.62</text><text class="e" style="font-size:5.500px" transform="translate(1216,304) rotate(-35)">58.39</text>
<text class="e" style="font-size:5.500px" transform="translate(1324,304) rotate(-35)">32.06</text><text class="e" style="font-size:5.500px" transform="translate(1340,304) rotate(-35)">40.84</text><text class="e" style="font-size:5.500px" transform="translate(1354,304) rotate(-35)">49.62</text><text class="e" style="font-size:5.500px" transform="translate(1368,304) rotate(-35)">58.39</text>
<text x="1188" y="245" class="s6">SASA (nm²)</text><text x="1340" y="245" class="s6">SASA (nm²)</text><text x="1188" y="317" class="s6">SASA (nm²)</text><text x="1340" y="317" class="s6">SASA (nm²)</text>
<rect x="1231" y="311" width="52" height="2.500" fill="url(#heat)"/>
<text x="1231" y="309" class="s6">0</text><text x="1241" y="309" class="s6">2</text><text x="1251" y="309" class="s6">4</text><text x="1262" y="309" class="s6">6</text><text x="1272" y="309" class="s6">8</text><text x="1282" y="309" class="s6">10</text>
<text x="1257" y="320" class="s6">Gibbs energy landscape (kJ/mol)</text>

<text x="1056" y="358" class="h l"><tspan>关键小分子化合物：</tspan><tspan style="fill:#f00">A6</tspan></text>

<!-- ===== Preclinical ===== -->
<text x="1039" y="393" class="h">临床前疗效评估</text>
<rect x="879" y="397" width="68" height="21" rx="4" fill="#dae8fc" stroke="#a9c4e8"/><text x="913" y="412" class="h">细胞系模型</text>
<rect x="1018" y="397" width="67" height="21" rx="4" fill="#d5e8d4" stroke="#b6d3b3"/><text x="1052" y="412" class="h">类器官模型</text>
<rect x="1210" y="397" width="67" height="21" rx="4" fill="#f8cecc" stroke="#dea3a0"/><text x="1243" y="412" class="h">PDX模型</text>

<text x="856" y="431" class="s6" style="font-weight:700">A</text><text x="910" y="431" class="s6" style="font-weight:700">B</text>
<path d="M872 440v50h30M921 440v51h36" class="ax"/>
<rect x="875" y="457" width="6" height="33" fill="#2c4a7c"/><rect x="883" y="486" width="6" height="4" fill="#e7a21c"/><rect x="891" y="488" width="6" height="2" fill="#8a9c88"/><rect x="898" y="489" width="6" height="1" fill="#8c1c1c"/>
<rect x="925" y="477" width="5" height="14" fill="#2c4a7c"/><rect x="933" y="472" width="5" height="19" fill="#e7a21c"/><rect x="942" y="448" width="5" height="43" fill="#8a9c88"/><rect x="949" y="451" width="5" height="40" fill="#8c1c1c"/>
<rect x="886" y="438" width="19" height="25" fill="#fff" stroke="#666" stroke-width=".5"/>
<text x="895" y="443" style="font-size:4.500px">A6 (μM)</text>
<rect x="888" y="445" width="2.500" height="2.500" fill="#2c4a7c"/><text x="892" y="447.500" class="l s4">0</text><rect x="888" y="449" width="2.500" height="2.500" fill="#e7a21c"/><text x="892" y="451.500" class="l s4">25</text><rect x="888" y="453" width="2.500" height="2.500" fill="#8a9c88"/><text x="892" y="455.500" class="l s4">50</text><rect x="888" y="457" width="2.500" height="2.500" fill="#8c1c1c"/><text x="892" y="459.500" class="l s4">100</text>
<text x="870" y="442" class="e s4">150</text><text x="870" y="459" class="e s4">100</text><text x="870" y="475" class="e s4">50</text><text x="870" y="491" class="e s4">0</text><text x="919" y="442" class="e s4">30</text><text x="919" y="459" class="e s4">20</text><text x="919" y="475" class="e s4">10</text><text x="919" y="491" class="e s4">0</text>
<text class="s4" transform="translate(861,465) rotate(-90)">Relative cell viability (%)</text><text class="s4" transform="translate(913,465) rotate(-90)">Apoptosis rate (%)</text>
<text x="886" y="484" class="s4">****</text><text x="894" y="486" class="s4">****</text><text x="901" y="487" class="s4">****</text><text x="935" y="470" class="s4">*</text><text x="944" y="446" class="s4">****</text><text x="952" y="449" class="s4">****</text>

<text x="997" y="428" class="s6">Tissue</text><text x="1033" y="428" class="s6">Organoid</text><text x="993" y="465" class="s6">Control</text><text x="1036" y="465" class="s6">A6</text>
<rect x="977" y="430" width="39" height="29" fill="#f2b8c8"/><rect x="977" y="436" width="39" height="16" fill="#a44" filter="url(#he)" opacity=".85"/><rect x="1017" y="430" width="39" height="29" fill="#fdf0f6"/>
<g fill="#d485bd" stroke="#a85a9a" stroke-width=".4"><circle cx="1028" cy="441" r="9"/><circle cx="1043" cy="440" r="10"/><circle cx="1052" cy="452" r="4"/></g>
<rect x="977" y="466" width="39" height="29" fill="#c9c9c7"/><rect x="1017" y="466" width="39" height="29" fill="#d4d4d2"/>
<circle cx="998" cy="480" r="4" fill="#eee" stroke="#999" stroke-width=".6"/><circle cx="988" cy="484" r="2" fill="#eee" stroke="#999" stroke-width=".5"/><circle cx="999" cy="473" r="2" fill="#eee" stroke="#999" stroke-width=".5"/><circle cx="1034" cy="482" r="2" fill="#c8c2b4"/>

<path d="M1085 430v47h74" class="ax"/>
<polyline points="1092,438 1103,443 1110,446 1122,450 1132,455 1141,460 1159,468" fill="none" stroke="#333" stroke-width=".8"/>
<path d="M1103 439v6M1133 449v6M1141 456v6M1159 462v7" stroke="#333" stroke-width=".4"/>
<g fill="#111"><circle cx="1092" cy="438" r="1.200"/><circle cx="1103" cy="442" r="1.200"/><circle cx="1111" cy="447" r="1.200"/><circle cx="1122" cy="449" r="1.200"/><circle cx="1133" cy="452" r="1.200"/><circle cx="1141" cy="459" r="1.200"/><circle cx="1159" cy="466" r="1.200"/></g>
<text x="1083" y="432" class="e s6">100</text><text x="1083" y="442" class="e s6">80</text><text x="1083" y="451" class="e s6">60</text><text x="1083" y="461" class="e s6">40</text><text x="1083" y="470" class="e s6">20</text><text x="1083" y="479" class="e s6">0</text>
<text x="1085" y="485" class="s6">0</text><text x="1103" y="485" class="s6">0.5</text><text x="1122" y="485" class="s6">1</text><text x="1140" y="485" class="s6">1.5</text><text x="1159" y="485" class="s6">2</text>
<text x="1124" y="493" class="s6">Log (concentrations of A6 (μM))</text>
<text class="s6" transform="translate(1069,453) rotate(-90)">Relative cell viability (%)</text>

<rect x="1195" y="423" width="84" height="34" fill="#e2d8c8"/><rect x="1195" y="423" width="84" height="13" fill="#a09a88"/><rect x="1195" y="462" width="84" height="37" fill="#e2d8c8"/><rect x="1195" y="462" width="84" height="13" fill="#4e473a"/>
<g fill="#c7824c"><circle cx="1200" cy="452" r="3.500"/><circle cx="1208" cy="452" r="3.500"/><circle cx="1216" cy="452" r="3.500"/><circle cx="1224" cy="452" r="3.500"/><circle cx="1232" cy="452" r="3.500"/><circle cx="1240" cy="452" r="3.500"/><circle cx="1248" cy="452" r="3.500"/><circle cx="1256" cy="452" r="3.500"/><circle cx="1265" cy="452" r="3.500"/><circle cx="1273" cy="451" r="3.500"/>
<circle cx="1200" cy="439" r="1"/><circle cx="1208" cy="439" r="1"/><circle cx="1216" cy="439" r="1"/><circle cx="1224" cy="439" r="1.200"/><circle cx="1232" cy="439" r="1"/><circle cx="1240" cy="439" r="1.200"/><circle cx="1248" cy="439" r="1.200"/><circle cx="1256" cy="439" r="1.200"/><circle cx="1265" cy="439" r="1.500"/><circle cx="1273" cy="439" r="1.500"/></g>
<g fill="#9c3c34"><circle cx="1200" cy="493" r="4"/><circle cx="1208" cy="493" r="4"/><circle cx="1216" cy="493" r="4"/><circle cx="1224" cy="493" r="4"/><circle cx="1232" cy="493" r="4"/><circle cx="1240" cy="493" r="4"/><circle cx="1248" cy="493" r="4"/><circle cx="1256" cy="493" r="4"/><circle cx="1265" cy="493" r="4"/><circle cx="1273" cy="492" r="4"/>
<rect x="1198" y="478" width="4" height="5"/><rect x="1206" y="478" width="4" height="5"/><rect x="1214" y="478" width="4" height="5"/><rect x="1222" y="478" width="4" height="5"/><rect x="1230" y="478" width="4" height="5"/><rect x="1238" y="478" width="4" height="5"/><rect x="1246" y="478" width="4" height="5"/><rect x="1254" y="478" width="4" height="5"/><rect x="1263" y="478" width="4" height="5"/><rect x="1271" y="478" width="4" height="5"/></g>
<text x="1197" y="442" class="l" style="font-size:5px;fill:#222">A6</text><text x="1194" y="449" class="l" style="font-size:5px;fill:#222">Control</text><text x="1197" y="481" class="l" style="font-size:5px;fill:#222">A6</text><text x="1194" y="488" class="l" style="font-size:5px;fill:#222">Control</text>
<text style="font-size:4.500px" transform="translate(1187,440) rotate(-90)">PDX model</text>
<text style="font-size:4.500px" transform="translate(1178,480) rotate(-90)">Subcutaneous</text><text style="font-size:4.500px" transform="translate(1183,480) rotate(-90)">xenograft</text><text style="font-size:4.500px" transform="translate(1188,480) rotate(-90)">model</text>

<text x="1335" y="428" style="font-size:4.500px">PDX model</text>
<path d="M1303 438v46h58" class="ax"/>
<polyline points="1307,472 1313,472 1319,471 1324,468 1331,465 1338,461 1346,457 1356,451" fill="none" stroke="#222" stroke-width=".8"/>
<polyline points="1307,474 1313,475 1319,477 1324,479 1331,480 1338,481 1346,482 1356,483" fill="none" stroke="#222" stroke-width=".8"/>
<path d="M1356 445v14M1349 450v12M1342 455v10M1335 459v8M1329 462v7M1356 480v5" stroke="#222" stroke-width=".5"/>
<g fill="#111"><circle cx="1307" cy="473" r="1"/><circle cx="1313" cy="473" r="1"/><circle cx="1319" cy="472" r="1"/><circle cx="1324" cy="469" r="1"/><circle cx="1331" cy="466" r="1"/><circle cx="1338" cy="461" r="1"/><circle cx="1346" cy="458" r="1"/><circle cx="1356" cy="452" r="1"/><circle cx="1313" cy="475" r="1"/><circle cx="1319" cy="477" r="1"/><circle cx="1324" cy="479" r="1"/><circle cx="1331" cy="480" r="1"/><circle cx="1338" cy="481" r="1"/><circle cx="1346" cy="482" r="1"/><circle cx="1356" cy="483" r="1"/></g>
<text x="1301" y="440" class="e" style="font-size:4.500px">1000</text><text x="1301" y="449" class="e" style="font-size:4.500px">800</text><text x="1301" y="458" class="e" style="font-size:4.500px">600</text><text x="1301" y="467" class="e" style="font-size:4.500px">400</text><text x="1301" y="476" class="e" style="font-size:4.500px">200</text><text x="1301" y="485" class="e" style="font-size:4.500px">0</text>
<text x="1307" y="489" style="font-size:4.500px">20</text><text x="1323" y="489" style="font-size:4.500px">30</text><text x="1340" y="489" style="font-size:4.500px">40</text><text x="1356" y="489" style="font-size:4.500px">50</text>
<text x="1336" y="497" style="font-size:5px">Time after injection (days)</text>
<text style="font-size:5px" transform="translate(1286,461) rotate(-90)">Volume of tumors (mm³)</text>
<path d="M1308 441h6M1308 446h6" stroke="#111"/><circle cx="1311" cy="441" r="1"/><circle cx="1311" cy="446" r="1"/><text x="1316" y="443" class="l" style="font-size:5px">Control</text><text x="1316" y="448" class="l" style="font-size:5px">A6</text>

<!-- ===== Bottom left panel ===== -->
<rect x="309" y="508" width="130" height="20" rx="3" fill="#dae8fc" stroke="#a9c4e8"/><text x="374" y="523" class="h">核内相分离现象观察</text>
<rect x="314" y="623" width="128" height="30" rx="5" fill="#f8cecc" stroke="#dea3a0"/><text x="378" y="643" class="h">体外相分离与物理性质</text>
<rect x="504" y="506" width="123" height="29" rx="3" fill="#d5e8d4" stroke="#5f7f5f"/><text x="566" y="525" class="h"><tspan>鉴定关键结构域 </tspan><tspan style="fill:#f00">IDR2</tspan></text>
<rect x="687" y="505" width="108" height="20" rx="4" fill="#fff2cc" stroke="#d6b656"/><text x="741" y="520" class="h">相分离功能验证</text>
<text x="738" y="540" class="h" style="font-size:12px">相分离缺陷型 vs 强制相分离型</text>
<text x="270" y="541" class="s8">Pre-bleach</text><text x="336" y="541" class="s8">Bleach</text><text x="407" y="541" class="s8">Post-bleach</text>
<use href="#nuc" x="237" y="543"/><use href="#nuc" x="305" y="543"/><use href="#nuc" x="374" y="543"/>
<path d="M424 606h13" stroke="#fff" stroke-width="1.500"/>
<text style="fill:#3bbf40;font-weight:700;font-size:7.500px" transform="translate(233,576) rotate(-90)">GFP-TFAP2β</text>

<!-- K -->
<text x="179" y="668" class="s6" style="font-weight:700">K</text>
<rect x="185" y="666" width="27" height="27" fill="#d4d4d4"/><path d="M185 672q12-8 24 2q6 12-8 16q-14 2-16-6z" fill="#8a8a8a"/>
<rect x="185" y="694" width="27" height="27" fill="#c4c4c4"/><circle cx="198" cy="708" r="12" fill="#a2a2a2"/><circle cx="197" cy="708" r="5" fill="#777"/>
<rect x="213" y="666" width="28" height="27" fill="#888" filter="url(#em)"/><rect x="213" y="694" width="28" height="27" fill="#888" filter="url(#em)" opacity=".7"/>
<rect x="222" y="681" width="13" height="9" fill="none" stroke="#f0b04c"/>
<rect x="242" y="666" width="55" height="55" fill="#888" filter="url(#em)"/><rect x="299" y="666" width="54" height="55" fill="#888" filter="url(#em)"/>
<rect x="242" y="666" width="55" height="55" fill="none" stroke="#f0c070" stroke-width="1"/><rect x="299" y="666" width="54" height="55" fill="none" stroke="#f0c070" stroke-width="1"/>
<g fill="#14804a" filter="url(#rough)"><ellipse cx="265" cy="681" rx="4" ry="4"/><ellipse cx="259" cy="689" rx="2" ry="3"/><ellipse cx="276" cy="696" rx="4" ry="3"/><ellipse cx="274" cy="705" rx="4" ry="5"/><ellipse cx="278" cy="688" rx="2" ry="2"/></g>
<g fill="#333" filter="url(#rough)" opacity=".7"><ellipse cx="322" cy="681" rx="4" ry="4"/><ellipse cx="333" cy="696" rx="4" ry="3"/><ellipse cx="331" cy="705" rx="4" ry="5"/></g>
<g stroke="#fff" stroke-width="1.400"><path d="M269 677l5-3M285 681l5-4M283 691l5-4M285 710l4-4M326 677l5-3M342 681l5-4M340 691l5-4M342 710l4-4M266 696l2 6M323 696l2 6"/></g>
<text x="298" y="665" style="font-size:3.500px;fill:#5a5">GFP-TFAP2β (CLEM)</text>
<text x="355" y="668" style="font-weight:700;font-size:5px">L</text>
<path d="M367 665v43h54" class="ax" stroke-width=".3"/>
<rect x="369" y="665" width="7" height="43" fill="#e0e0e0"/><rect x="382" y="665" width="9" height="43" fill="#e0e0e0"/>
<path d="M367 706q3-2 5-1q1-42 3-1q3 2 5 0q3 2 4-3q2-22 4-3q2 6 8 4q6-2 12 0q3 2 6-2q2 0 2 6" fill="#9cc6df" stroke="#4b9bc9" stroke-width=".5"/>
<rect x="420" y="676" width="23" height="22" fill="#fff" stroke="#ddd" stroke-width=".4"/>
<text x="432" y="680" class="s3">GFP-TFAP2β</text><text x="432" y="685" class="s3">40 μM</text><text x="432" y="689" class="s3">20 μM</text><text x="432" y="693" class="s3">10 μM</text><text x="432" y="697" class="s3">5 μM</text>
<!-- M/N/O/P/Q/S -->
<g fill="#000"><rect x="182" y="727" width="20" height="20"/><rect x="203" y="727" width="20" height="20"/><rect x="224" y="727" width="20" height="20"/>
<rect x="182" y="751" width="20" height="20"/><rect x="203" y="751" width="20" height="20"/><rect x="224" y="751" width="20" height="20"/>
<rect x="246" y="727" width="20" height="20"/><rect x="268" y="727" width="20" height="20"/><rect x="286" y="727" width="20" height="20"/><rect x="307" y="727" width="20" height="20"/><rect x="286" y="751" width="20" height="20"/><rect x="307" y="751" width="20" height="20"/><rect x="246" y="751" width="20" height="20"/><rect x="268" y="751" width="20" height="20"/><rect x="328" y="727" width="21" height="20"/><rect x="350" y="727" width="21" height="20"/><rect x="372" y="727" width="19" height="20"/><rect x="328" y="751" width="21" height="20"/><rect x="350" y="751" width="21" height="20"/><rect x="372" y="751" width="19" height="20"/></g>
<g fill="#f01010"><circle cx="256" cy="737" r="7"/><circle cx="262" cy="731" r="2.500"/><circle cx="278" cy="737" r="7"/><circle cx="296" cy="737" r="6.500"/><circle cx="317" cy="737" r="6.500"/>
<circle cx="338" cy="737" r="3"/><circle cx="332" cy="732" r="1.500"/><circle cx="344" cy="732" r="2"/><circle cx="333" cy="743" r="2"/><circle cx="345" cy="742" r="2"/><circle cx="360" cy="737" r="3"/><circle cx="354" cy="732" r="1.500"/><circle cx="366" cy="732" r="2"/><circle cx="355" cy="743" r="2"/><circle cx="367" cy="742" r="2"/><circle cx="381" cy="737" r="3"/><circle cx="376" cy="732" r="1.500"/><circle cx="387" cy="732" r="2"/><circle cx="376" cy="743" r="2"/><circle cx="387" cy="742" r="2"/>
<circle cx="208" cy="733" r="2"/><circle cx="216" cy="736" r="1.500"/><circle cx="210" cy="742" r="2"/><circle cx="218" cy="743" r="1.200"/><circle cx="229" cy="733" r="2"/><circle cx="237" cy="736" r="1.500"/><circle cx="231" cy="742" r="2"/><circle cx="239" cy="743" r="1.200"/></g>
<g fill="#3ce03c"><circle cx="256" cy="760" r="7"/><circle cx="256" cy="769" r="2.500"/><circle cx="278" cy="761" r="7.500"/><circle cx="296" cy="761" r="7"/><circle cx="317" cy="761" r="7.500"/>
<circle cx="338" cy="761" r="3"/><circle cx="332" cy="756" r="2"/><circle cx="345" cy="756" r="2"/><circle cx="332" cy="767" r="2"/><circle cx="345" cy="767" r="2"/><circle cx="360" cy="761" r="3"/><circle cx="354" cy="756" r="2"/><circle cx="367" cy="756" r="2"/><circle cx="354" cy="767" r="2"/><circle cx="367" cy="767" r="2"/><circle cx="381" cy="761" r="3"/><circle cx="376" cy="756" r="2"/><circle cx="387" cy="756" r="2"/><circle cx="376" cy="767" r="2"/><circle cx="387" cy="767" r="2"/>
<circle cx="209" cy="757" r="2.500"/><circle cx="217" cy="760" r="2"/><circle cx="210" cy="766" r="2.500"/><circle cx="218" cy="766" r="2"/><circle cx="230" cy="757" r="2.500"/><circle cx="238" cy="760" r="2"/><circle cx="231" cy="766" r="2.500"/><circle cx="239" cy="766" r="2"/></g>
<g fill="#ccc"><circle cx="187" cy="733" r=".8"/><circle cx="193" cy="736" r=".6"/><circle cx="189" cy="742" r=".8"/><circle cx="197" cy="742" r=".6"/><circle cx="187" cy="757" r=".8"/><circle cx="193" cy="760" r=".6"/><circle cx="189" cy="766" r=".8"/><circle cx="197" cy="766" r=".6"/></g>
<text x="192" y="726" class="s3">DIC</text><text x="213" y="726" class="s3" style="fill:#e33">mCherry-TFAP2β</text><text x="234" y="726" class="s3">Merge</text><text x="192" y="750" class="s3">DIC</text><text x="213" y="750" class="s3" style="fill:#3a3">GFP-TFAP2β</text><text x="234" y="750" class="s3">Merge</text>
<text x="256" y="726" class="s3">0 s</text><text x="278" y="726" class="s3">5 s</text><text x="296" y="726" class="s3">10 s</text><text x="317" y="726" class="s3">15 s</text>
<text x="256" y="750" class="s3">0 s</text><text x="278" y="750" class="s3">6 s</text><text x="296" y="750" class="s3">12 s</text><text x="317" y="750" class="s3">18 s</text>
<text x="338" y="726" class="s3">Pre-bleach</text><text x="360" y="726" class="s3">Bleach</text><text x="381" y="726" class="s3">Post-bleach</text><text x="338" y="750" class="s3">Pre-bleach</text><text x="360" y="750" class="s3">Bleach</text><text x="381" y="750" class="s3">Post-bleach</text>
<text x="180" y="726" class="s4" style="font-weight:700">M</text><text x="180" y="750" class="s4" style="font-weight:700">N</text><text x="245" y="726" class="s4" style="font-weight:700">O</text><text x="245" y="750" class="s4" style="font-weight:700">P</text><text x="327" y="726" class="s4" style="font-weight:700">Q</text><text x="327" y="750" class="s4" style="font-weight:700">S</text><text x="392" y="726" class="s4" style="font-weight:700">R</text><text x="392" y="750" class="s4" style="font-weight:700">T</text>
<path d="M403 719v22h40M403 746v22h40" class="ax"/>
<path d="M404 721q3 2 5 16q4-9 12-10t14-7" fill="none" stroke="#e47a70" stroke-width=".9"/>
<path d="M404 748q3 2 5 11q5-7 13-9t14-3" fill="none" stroke="#4dbb57" stroke-width=".9"/>
<text x="423" y="746" class="s3">Minutes</text><text x="423" y="773" class="s3">Minutes</text>
<text class="s3" transform="translate(399,731) rotate(-90)">Intensity (a.u.)</text><text class="s3" transform="translate(399,758) rotate(-90)">Intensity (a.u.)</text>

<!-- IDR2 domain panel -->
<text x="489" y="554" class="s4" style="font-weight:700">A</text><text x="622" y="554" class="s4" style="font-weight:700">D</text>
<rect x="510" y="556" width="106" height="5" fill="#b5b5b5"/><rect x="517" y="556" width="21" height="5" fill="#a7cc96"/><rect x="560" y="556" width="8" height="5" fill="#a9c5e6"/><rect x="576" y="556" width="30" height="5" fill="#f3cf8e"/>
<use href="#dom" y="563"/><rect x="609" y="563" width="7" height="6" fill="#a03f73"/><rect x="510" y="563" width="8" height="6" fill="#bbb"/>
<use href="#dom" y="573"/><rect x="518" y="573" width="43" height="6" fill="#fff"/><path d="M518 576h42" stroke="#d07dad" stroke-dasharray="1.500 1" stroke-width="1"/><rect x="609" y="573" width="7" height="6" fill="#a03f73"/>
<use href="#dom" y="582"/><rect x="606" y="582" width="10" height="6" fill="#fff"/><path d="M609 585h7" stroke="#d07dad" stroke-dasharray="1.500 1"/>
<use href="#dom" y="591"/><rect x="609" y="591" width="7" height="6" fill="#d9a3c9"/>
<use href="#dom" y="600"/><rect x="608" y="600" width="10" height="6" fill="#eda11c"/>
<use href="#dom" y="609"/><rect x="607" y="609" width="4" height="6" fill="#d9a3c9"/><rect x="611" y="609" width="13" height="6" fill="#eda11c"/>
<text x="509" y="566" class="e s3">TFAP2β</text><text x="509" y="577" class="e s3">ΔIDR1</text><text x="509" y="586" class="e s3">ΔIDR2</text><text x="509" y="595" class="e s3">Mut_IDR2</text><text x="509" y="604" class="e s3">ΔIDR2-FUS</text><text x="509" y="613" class="e s3">Mut_IDR2-FUS</text><text x="538" y="559.500" class="s3">IPTQ rich</text><text x="563" y="559.500" class="s3">DBD</text><text x="591" y="559.500" class="s3">Helix-span-helix</text><text x="540" y="567.500" class="s3" style="fill:#eee">IDR1</text><text x="613" y="604" class="s3">FUS IDR</text><text x="617" y="613" class="s3">FUS IDR</text>
<text x="489" y="623" class="s4" style="font-weight:700">B</text><text x="489" y="655" class="s4" style="font-weight:700">C</text>
<g fill="#000" stroke="#aaa" stroke-width=".3"><rect x="492" y="626" width="22" height="21"/><rect x="514" y="626" width="22" height="21"/><rect x="537" y="626" width="21" height="21"/><rect x="559" y="626" width="21" height="21"/><rect x="581" y="626" width="22" height="21"/><rect x="603" y="626" width="22" height="21"/></g>
<g fill="#ddd"><circle cx="498" cy="632" r=".5"/><circle cx="505" cy="638" r=".5"/><circle cx="500" cy="642" r=".5"/><circle cx="510" cy="631" r=".5"/><circle cx="588" cy="633" r=".5"/><circle cx="595" cy="640" r=".5"/><circle cx="599" cy="631" r=".5"/><circle cx="609" cy="632" r=".6"/><circle cx="615" cy="638" r=".6"/><circle cx="620" cy="643" r=".6"/><circle cx="611" cy="641" r=".6"/><circle cx="620" cy="630" r=".6"/></g>
<text x="503" y="625" class="s3">TFAP2β</text><text x="525" y="625" class="s3">ΔIDR1</text><text x="547" y="625" class="s3">ΔIDR2</text><text x="570" y="625" class="s3">Mut_IDR2</text><text x="592" y="625" class="s3">ΔIDR2-FUS</text><text x="614" y="620" class="s3">Mut_IDR2</text><text x="614" y="625" class="s3">-FUS</text>
<text x="503" y="656" class="s3">GFP-TFAP2β</text><text x="536" y="656" class="s3">GFP-TFAP2β-ΔIDR1</text><text x="559" y="652" class="s3">GFP-TFAP2β-</text><text x="559" y="656" class="s3">Mut_IDR2</text><text x="587" y="652" class="s3">GFP-TFAP2β-</text><text x="587" y="656" class="s3">ΔIDR2-FUS</text><text x="614" y="652" class="s3">GFP-TFAP2β-</text><text x="614" y="656" class="s3">Mut_IDR2-FUS</text>
<g fill="#000" stroke="#aaa" stroke-width=".3"><rect x="493" y="657" width="27" height="22"/><rect x="521" y="657" width="32" height="22"/><rect x="554" y="657" width="22" height="22"/><rect x="577" y="657" width="25" height="22"/><rect x="603" y="657" width="23" height="22"/><rect x="493" y="680" width="27" height="23"/><rect x="521" y="680" width="32" height="23"/><rect x="554" y="680" width="22" height="23"/><rect x="577" y="680" width="25" height="23"/><rect x="603" y="680" width="23" height="23"/></g>
<ellipse cx="505" cy="668" rx="10" ry="8" fill="#0c8" filter="url(#gfp)"/><ellipse cx="537" cy="668" rx="13" ry="7" fill="#1f9a45"/><ellipse cx="565" cy="668" rx="8" ry="7" fill="#1f8a3d"/><ellipse cx="589" cy="668" rx="10" ry="8" fill="#0c8" filter="url(#gfp)"/><ellipse cx="614" cy="668" rx="9" ry="8" fill="#0c8" filter="url(#gfp)"/>
<ellipse cx="505" cy="691" rx="12" ry="9" fill="#0e6a88"/><ellipse cx="505" cy="691" rx="9" ry="7" fill="#27b" opacity=".6"/><ellipse cx="537" cy="691" rx="15" ry="9" fill="#1a7a3d"/><ellipse cx="537" cy="691" rx="9" ry="7" fill="#1a7cc0"/><ellipse cx="565" cy="691" rx="9" ry="9" fill="#1469a8"/><ellipse cx="589" cy="691" rx="11" ry="9" fill="#117099"/><ellipse cx="614" cy="691" rx="9" ry="9" fill="#117a99"/>
<text class="s3" style="fill:#3a3" transform="translate(491,668) rotate(-90)">GFP</text><text class="s3" transform="translate(491,691) rotate(-90)">Merge</text>

<!-- P Q R -->
<text x="686" y="554" style="font-weight:700;font-size:5px">P</text><text x="760" y="555" style="font-weight:700;font-size:5px">G</text><text x="783" y="555" style="font-weight:700;font-size:5px">R</text>
<text x="770" y="556" style="font-size:3.500px">Liver</text><text x="793" y="556" style="font-size:3.500px">Lung</text>
<rect x="693" y="551" width="50" height="1.500" fill="url(#heat)" transform="rotate(180 718 551.700)"/>
<text x="693" y="556" class="s3">3</text><text x="718" y="556" class="s3">5</text><text x="746" y="556" class="s3">7 ×10⁶</text>
<rect x="683" y="558" width="75" height="118" fill="#333"/>
<use href="#mouse2" x="690" y="569"/><use href="#mouse2" x="702" y="569"/><use href="#mouse2" x="714" y="569"/><use href="#mouse2" x="726" y="569"/><use href="#mouse" x="738" y="569"/><use href="#mouse" x="750" y="569"/>
<g id="mr"><use href="#mouse" x="690" y="589"/><use href="#mouse" x="702" y="589"/><use href="#mouse" x="714" y="589"/><use href="#mouse" x="726" y="589"/><use href="#mouse" x="738" y="589"/><use href="#mouse" x="750" y="589"/></g>
<use href="#mr" y="19.500"/><use href="#mr" y="39"/><use href="#mr" y="58.500"/><use href="#mr" y="78"/>
<text x="684" y="562" class="l s4" style="fill:#eee">GFP</text><text x="684" y="581" class="l s4" style="fill:#eee">GFP-TFAP2β-ΔIDR2</text><text x="684" y="600" class="l s4" style="fill:#eee">GFP-TFAP2β-Mut_IDR2</text><text x="684" y="620" class="l s4" style="fill:#eee">GFP-TFAP2β-ΔIDR2-FUS</text><text x="684" y="640" class="l s4" style="fill:#eee">GFP-TFAP2β-Mut_IDR2-FUS</text><text x="684" y="661" class="l s4" style="fill:#eee">GFP-TFAP2β</text>
<g fill="#e5dfd6"><rect x="759" y="559" width="23" height="18.500"/><rect x="759" y="579" width="23" height="18"/><rect x="759" y="598" width="23" height="18"/><rect x="759" y="617" width="23" height="18"/><rect x="759" y="637" width="23" height="18"/><rect x="759" y="656" width="23" height="19"/><rect x="783" y="559" width="22" height="18.500"/><rect x="783" y="579" width="22" height="18"/><rect x="783" y="598" width="22" height="18"/><rect x="783" y="617" width="22" height="18"/><rect x="783" y="637" width="22" height="18"/><rect x="783" y="656" width="22" height="19"/></g>
<use href="#liver" x="770" y="568"/><use href="#liver" x="770" y="588"/><use href="#liver" x="770" y="607"/><use href="#liver" x="770" y="626"/><use href="#liver" x="770" y="646"/><use href="#liver" x="770" y="665"/>
<use href="#lung" x="794" y="568"/><use href="#lung" x="794" y="588"/><use href="#lung" x="794" y="607"/><use href="#lung" x="794" y="626"/><use href="#lung" x="794" y="646"/><use href="#lung" x="794" y="665"/>
<text x="685" y="683" style="font-weight:700;font-size:5px">S</text>
<rect x="689" y="677" width="115" height="15" fill="#fff" stroke="#999" stroke-width=".4"/>
<rect x="691" y="679" width="4" height="2" fill="#c18a3e"/><text x="696" y="681.500" class="l s4">GFP-TFAP2β-Mut_IDR2-FUS</text><rect x="752" y="679" width="4" height="2" fill="#1f5aa0"/><text x="757" y="681.500" class="l s4">GFP-TFAP2β-ΔIDR2-FUS</text>
<rect x="691" y="683.500" width="4" height="2" fill="#8a7d1c"/><text x="696" y="686" class="l s4">GFP-TFAP2β-Mut_IDR2</text><rect x="745" y="683.500" width="4" height="2" fill="#e7c62a"/><text x="750" y="686" class="l s4">GFP-TFAP2β-ΔIDR2</text>
<rect x="691" y="688" width="4" height="2" fill="#1f4e8c"/><text x="696" y="690.500" class="l s4">GFP-TFAP2β</text><rect x="726" y="688" width="4" height="2" fill="#c22"/><text x="731" y="690.500" class="l s4">GFP</text>
<text x="743" y="703" style="font-weight:700;font-size:5px">T</text>
<path d="M700 697v31h38M763 697v31h42" class="ax"/>
<rect x="703" y="712" width="5" height="16" fill="#c22"/><rect x="710" y="724" width="5" height="4" fill="#1f4e8c"/><rect x="716" y="711" width="5" height="17" fill="#e7c62a"/><rect x="722" y="714" width="5" height="14" fill="#8a7d1c"/><rect x="728" y="720" width="5" height="8" fill="#1f5aa0"/><rect x="734" y="722" width="5" height="6" fill="#c18a3e"/>
<rect x="766" y="709" width="5" height="19" fill="#c22"/><rect x="772" y="726" width="5" height="2" fill="#1f4e8c"/><rect x="779" y="714" width="5" height="14" fill="#e7c62a"/><rect x="785" y="717" width="5" height="11" fill="#8a7d1c"/><rect x="792" y="725" width="5" height="3" fill="#1f5aa0"/><rect x="798" y="726" width="5" height="2" fill="#c18a3e"/>
<path d="M706 696h14M716 701h18M722 698h12M766 697h24M768 702h14M778 700h24M770 706h10" stroke="#777" stroke-width=".4"/>
<text x="698" y="699" class="e s4">40</text><text x="698" y="713" class="e s4">20</text><text x="698" y="729" class="e s4">0</text><text x="761" y="699" class="e s4">15</text><text x="761" y="709" class="e s4">10</text><text x="761" y="719" class="e s4">5</text><text x="761" y="729" class="e s4">0</text>
<text style="font-size:3.500px" transform="translate(688,712) rotate(-90)">Number of nodules</text><text style="font-size:3.500px" transform="translate(692,712) rotate(-90)">in the liver</text>
<text style="font-size:3.500px" transform="translate(751,712) rotate(-90)">Number of nodules</text><text style="font-size:3.500px" transform="translate(755,712) rotate(-90)">in the lung</text>

<text x="865" y="601" class="h" style="font-size:12px">分子调控网络解析</text>

<!-- ===== Bottom right panel ===== -->
<rect x="971" y="525" width="119" height="25" rx="5" fill="#dae8fc" stroke="#a9c4e8"/><text x="1031" y="542" class="h">液滴共沉降 与 Co-IP</text>
<rect x="944" y="656" width="175" height="26" rx="5" fill="#d5e8d4" stroke="#b6d3b3"/><text x="1031" y="674" class="h">ChIP-seq与RNA-seq联合分析</text>
<text x="1115" y="558" class="h3 l">关键下调转录因子：</text>
<text x="1115" y="573" class="h3 l" style="fill:#f00">NFIX, ID4</text>
<text x="1307" y="583" class="h3">TFAP2β凝聚体招募并富集NFIX, ID4，</text>
<text x="1307" y="597" class="h3">促进它们结合DNA。</text>
<text x="1120" y="681" class="h3 l"><tspan>关键下游靶基因：</tspan><tspan style="fill:#f00">ZNF131</tspan></text>
<text x="1321" y="707" class="h3">TFAP2β凝聚体结合在 ZNF131 启动子区，</text>
<text x="1325" y="721" class="h3">阻碍YAP1结合，从而抑制致癌基因</text>
<text x="1325" y="735" class="h3">ZNF131的转录</text>
<text x="1153" y="770" class="h3">ChIP-qPCR验证</text>
<path d="M1034 753V769H1107" stroke="#555" stroke-width=".8" fill="none"/><path d="M1107 767l4 2-4 2z" fill="#111"/>

<rect x="970" y="556" width="84" height="85" fill="#fff" stroke="#ccc" stroke-width=".8"/>
<g fill="#e07070"><circle cx="978" cy="570" r="2.500"/><circle cx="984" cy="567" r="3"/><circle cx="979" cy="576" r="3"/><circle cx="986" cy="576" r="3"/></g>
<text x="983" y="590" class="s3">ESCC cell lysate</text>
<path d="M1001 570h4l-2 8z" fill="#e7a0a0" stroke="#888" stroke-width=".3"/><path d="M999 575H994" stroke="#d33"/>
<path d="M1018 565v15l4 7 4-7v-15" fill="#e6f0e0" stroke="#999" stroke-width=".4"/><path d="M1037 565v15l4 7 4-7v-15" fill="#f0f4ee" stroke="#999" stroke-width=".4"/>
<g fill="#3f9a78"><circle cx="1021" cy="572" r=".7"/><circle cx="1024" cy="577" r=".7"/><circle cx="1020" cy="580" r=".7"/><circle cx="1040" cy="572" r=".7"/><circle cx="1043" cy="577" r=".7"/><circle cx="1041" cy="581" r=".7"/></g>
<path d="M1007 562q10-4 15 3" fill="none" stroke="#333" stroke-width=".4"/>
<text x="1003" y="565" class="s3">Supernatant</text><text x="1022" y="590" class="s3">On ice</text><text x="1041" y="590" class="s3">37°C, 5 min</text>
<g fill="#e6f2f0" stroke="#999" stroke-width=".4"><path d="M977 617v14l6 6 6-6v-14z"/><path d="M995 617v14l6 6 6-6v-14z"/><path d="M1015 617v14l6 6 6-6v-14z"/></g>
<path d="M977 628h12v3l-6 6-6-6zM995 628h12v3l-6 6-6-6zM1015 628h12v3l-6 6-6-6z" fill="#7cc2ae"/>
<rect x="1031" y="603" width="21" height="33" fill="#777"/><path d="M1035 606h12l-3 28h-6z" fill="#d6d8cc"/><rect x="1038" y="630" width="6" height="4" fill="#e4d41e"/>
<text x="983" y="640" class="s3">Spin down</text><text x="1000" y="640" class="s3">Wash</text><text x="1021" y="640" class="s3">Spin down</text><text x="1042" y="640" class="s3">Pellet</text>
<text x="1040" y="601" class="s3">Supernatant</text><path d="M1001 610l6-5" stroke="#7ab" stroke-width="1"/>
<text x="1073" y="578" class="s3">GFP-TFAP2β</text><text x="1089" y="578" class="s3">GFP-FUS</text>
<g fill="#ddd" stroke="#aaa" stroke-width=".3"><rect x="1064" y="580" width="34" height="17"/><rect x="1064" y="598" width="34" height="9"/><rect x="1064" y="609" width="34" height="9"/></g>
<g fill="#111" filter="url(#b1)"><rect x="1066" y="583" width="14" height="3"/><rect x="1082" y="591" width="14" height="3"/><rect x="1066" y="601" width="13" height="2"/><rect x="1066" y="612" width="14" height="2"/></g>
<text x="1062" y="590" class="s3 e">GFP</text><text x="1062" y="604" class="s3 e">NFIX</text><text x="1062" y="615" class="s3 e">ID4</text>

<!-- 5-way venn -->
<g opacity=".55"><ellipse cx="993" cy="708" rx="8" ry="17" fill="#b3c4e0"/><ellipse cx="1008" cy="716" rx="9" ry="18" fill="#e58e70" transform="rotate(70 1008 716)"/><ellipse cx="1004" cy="733" rx="9" ry="18" fill="#ead396" transform="rotate(-40 1004 733)"/><ellipse cx="985" cy="735" rx="9" ry="18" fill="#eb9a80" transform="rotate(35 985 735)"/><ellipse cx="981" cy="718" rx="9" ry="18" fill="#5f8f66" transform="rotate(-70 981 718)"/></g>
<ellipse cx="996" cy="722" rx="20" ry="8" fill="#6a6a44" opacity=".35" transform="rotate(35 996 722)"/>
<text x="995" y="688" class="s3">ChIP-seq</text><text x="995" y="691.500" class="s3">(TFAP2β vs TFAP2β-ΔIDR2)</text>
<text x="969" y="697" class="s3">ChIP-seq</text><text x="969" y="701" class="s3">(TFAP2β vs</text><text x="969" y="705" class="s3">TFAP2β-Mut_IDR2)</text>
<text x="1017" y="697" class="s3">RNA-seq</text><text x="1017" y="701" class="s3">(TFAP2β vs</text><text x="1017" y="705" class="s3">TFAP2β-Mut_IDR2)</text>
<text x="976" y="747" class="s3">RNA-seq (TFAP2β vs GFP) and</text><text x="976" y="751" class="s3">ChIP-seq(TFAP2β)</text>
<text x="1017" y="747" class="s3">RNA-seq</text><text x="1017" y="751" class="s3">(TFAP2β vs TFAP2β-ΔIDR2)</text>
<rect x="1020" y="728" width="13" height="6" fill="#fff" stroke="#999" stroke-width=".4"/><text x="1026" y="732.500" class="s3" style="fill:#d22">ZNF131</text>
<path d="M1000 722L1020 731" stroke="#333" stroke-width=".4"/>
<text x="1064" y="688" class="s3">Promoter region</text>
<rect x="1060" y="690" width="54" height="25" fill="#fff" stroke="#aaa" stroke-width=".4"/>
<g stroke="#1a2ea0" stroke-width=".5" fill="none"><path d="M1061 694h52M1061 698h52M1061 702h52M1061 706h52M1061 710h52M1061 714h52M1061 725h52M1061 732h52M1061 739h52M1061 746h52"/></g>
<g stroke="#1a2ea0" stroke-width="1"><path d="M1072 691v3M1081 691v3M1087 691v3M1072 695v3M1087 695v3M1072 699v3M1087 699v3M1087 703v3M1087 707v3M1087 711v3"/></g>
<rect x="1086" y="721" width="28" height="28" fill="none" stroke="#e79a9a" stroke-width=".7"/>
<g stroke="#1a2ea0" stroke-width="1"><path d="M1110 721v4M1110 728v4M1110 735v4M1110 742v4M1088 722v3M1088 729v3M1088 736v3M1088 743v3"/></g>
<path d="M1114 690V749" stroke="#a33" stroke-width=".6"/>
<text x="1059" y="693" class="e s3">TFAP2β_1</text><text x="1059" y="697" class="e s3">TFAP2β_2</text><text x="1059" y="701" class="e s3">TFAP2β-Mut_IDR2_1</text><text x="1059" y="705" class="e s3">TFAP2β-Mut_IDR2_2</text><text x="1059" y="709" class="e s3">TFAP2β-ΔIDR2_1</text><text x="1059" y="713" class="e s3">TFAP2β-ΔIDR2_2</text>
<text x="1059" y="725" class="e s3">TFAP2β</text><text x="1059" y="732" class="e s3">TFAP2β-Mut_IDR2</text><text x="1059" y="739" class="e s3">TFAP2β-ΔIDR2</text><text x="1059" y="746" class="e s3">GFP</text>
<text x="1075" y="720" class="s3">Chr 5: 43,000,707-43,007,712</text><text x="1107" y="720" class="s3">Gene express</text><text x="1080" y="750" class="s3">ZNF131</text>

<path d="M1219 737v42h62" class="ax" stroke-width=".4"/>
<rect x="1224" y="748" width="5" height="31" fill="#b2202a"/><rect x="1232" y="774" width="5" height="5" fill="#1c2f6c"/><rect x="1240" y="759" width="5" height="20" fill="#1a7a4a"/><rect x="1248" y="762" width="5" height="17" fill="#1f78b4"/><rect x="1256" y="764" width="5" height="15" fill="#8a4a24"/><rect x="1264" y="767" width="5" height="12" fill="#c01a7c"/><rect x="1272" y="748" width="5" height="31" fill="#7c1a7c"/>
<path d="M1226 733h46M1226 737h8M1232 740h8M1243 736h14M1252 742h18M1241 746h10M1250 749h14M1268 740h10M1232 743h12" stroke="#999" stroke-width=".4"/>
<text class="s3" transform="translate(1211,758) rotate(-90)">Relative mRNA level</text><text class="s3" transform="translate(1215,758) rotate(-90)">of ZNF131</text>
</svg>
</body></html>
